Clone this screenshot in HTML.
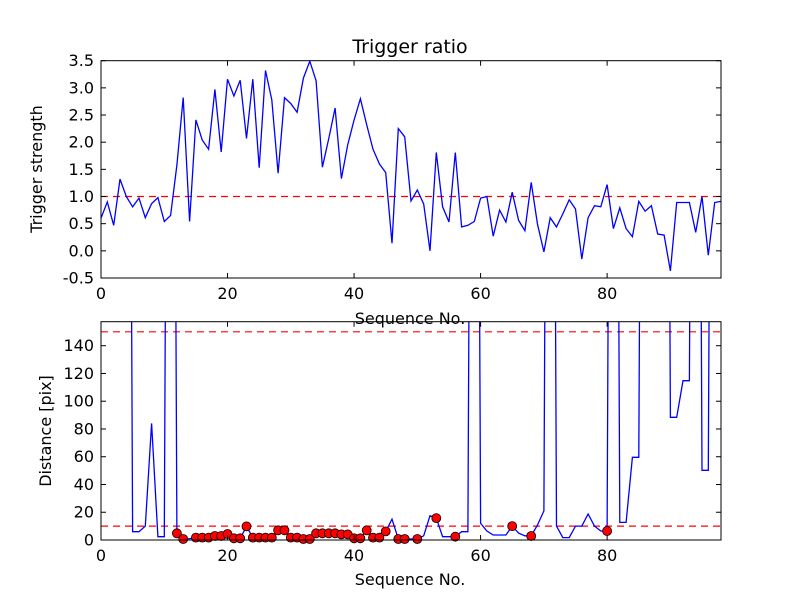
<!DOCTYPE html>
<html><head><meta charset="utf-8"><style>
html,body{margin:0;padding:0;background:#fff;}
svg{display:block;font-family:"DejaVu Sans","Liberation Sans",sans-serif;}
</style></head><body>
<svg id="s" width="800" height="600" xmlns="http://www.w3.org/2000/svg"></svg>
<script>
(function(){
var S=document.getElementById('s');
var h='';
var X0=101,X1=721,XM=98;
function sx(i){return X0+(i/XM)*(X1-X0);}
var T0=60.7,T1=278,tmin=-0.5,tmax=3.5;
function ty(v){return T0+(tmax-v)/(tmax-tmin)*(T1-T0);}
var B0=321.7,B1=540,bmax=157.3;
function by(v){return B1-v/bmax*(B1-B0);}
var topData=[0.6,0.9,0.47,1.32,1.0,0.81,0.97,0.61,0.87,0.98,0.54,0.65,1.58,2.82,0.54,2.41,2.04,1.87,2.97,1.82,3.16,2.85,3.14,2.07,3.16,1.53,3.32,2.78,1.43,2.82,2.71,2.55,3.18,3.49,3.13,1.54,2.07,2.63,1.33,1.95,2.41,2.8,2.32,1.87,1.6,1.44,0.14,2.25,2.1,0.92,1.12,0.86,0.0,1.81,0.81,0.53,1.81,0.44,0.47,0.54,0.97,1.0,0.27,0.75,0.53,1.08,0.56,0.37,1.26,0.49,-0.02,0.61,0.44,0.68,0.94,0.77,-0.15,0.61,0.83,0.81,1.22,0.41,0.79,0.41,0.26,0.91,0.73,0.83,0.31,0.29,-0.37,0.89,0.89,0.89,0.34,1.0,-0.08,0.89,0.91];
var H=1000;
var botData=[H,H,H,H,H,6,6,10,84,2.4,2.4,H,4.8,0.7,1,1.7,1.7,1.7,2.9,2.9,4.3,1.2,1.2,9.8,1.7,1.7,1.7,1.7,7,7,1.7,1.7,0.7,0.7,4.8,4.8,4.8,4.8,4,4,1.2,1.2,7,1.7,1.7,6.2,15,0.7,0.7,0.7,0.7,3,17.5,15.8,2.4,2.4,2.4,6,6,H,12,6.5,3.6,3.6,3.6,10,5,3,2.9,10.8,21,H,10,1.7,1.7,10,10,18.7,10,6.5,6.5,H,12.7,12.7,59.6,59.6,H,H,H,H,88.4,88.4,114.8,114.8,H,50.2,50.2,H,H];
var mk=[12,13,15,16,17,18,19,20,21,22,23,24,25,26,27,28,29,30,31,32,33,34,35,36,37,38,39,40,41,42,43,44,45,47,48,50,53,56,65,68,80];
h+='<defs><clipPath id="c1"><rect x="'+X0+'" y="'+T0+'" width="'+(X1-X0)+'" height="'+(T1-T0)+'"/></clipPath><clipPath id="c2"><rect x="'+X0+'" y="'+B0+'" width="'+(X1-X0)+'" height="'+(B1-B0)+'"/></clipPath></defs>';
h+='<line x1="'+X0+'" x2="'+X1+'" y1="'+ty(1)+'" y2="'+ty(1)+'" stroke="red" stroke-width="1.2" stroke-dasharray="7,5"/>';
h+='<polyline clip-path="url(#c1)" fill="none" stroke="blue" stroke-width="1.3" points="'+topData.map(function(v,i){return sx(i).toFixed(1)+','+ty(v).toFixed(1);}).join(' ')+'"/>';
h+='<rect x="'+X0+'" y="'+T0+'" width="'+(X1-X0)+'" height="'+(T1-T0)+'" fill="none" stroke="#000" stroke-width="1"/>';
var v,i,x,y;
for(var k=0;k<=8;k++){v=-0.5+k*0.5;y=ty(v);h+='<line x1="'+X0+'" x2="'+(X0+5)+'" y1="'+y+'" y2="'+y+'" stroke="#000"/><line x1="'+(X1-5)+'" x2="'+X1+'" y1="'+y+'" y2="'+y+'" stroke="#000"/><text x="'+(X0-7)+'" y="'+(y+5.5)+'" font-size="16" text-anchor="end">'+v.toFixed(1)+'</text>';}
for(i=0;i<=80;i+=20){x=sx(i);h+='<line x1="'+x+'" x2="'+x+'" y1="'+T1+'" y2="'+(T1-5)+'" stroke="#000"/><line x1="'+x+'" x2="'+x+'" y1="'+T0+'" y2="'+(T0+5)+'" stroke="#000"/><text x="'+x+'" y="'+(T1+21)+'" font-size="16" text-anchor="middle">'+i+'</text>';}
h+='<text x="410" y="53" font-size="19" text-anchor="middle">Trigger ratio</text>';
h+='<text x="410" y="324" font-size="16" text-anchor="middle">Sequence No.</text>';
h+='<text transform="translate(42,169) rotate(-90)" font-size="16" text-anchor="middle">Trigger strength</text>';
[150,10].forEach(function(v){h+='<line x1="'+X0+'" x2="'+X1+'" y1="'+by(v)+'" y2="'+by(v)+'" stroke="red" stroke-width="1.2" stroke-dasharray="7,5"/>';});
h+='<polyline clip-path="url(#c2)" fill="none" stroke="blue" stroke-width="1.3" points="'+botData.map(function(v,i){return sx(i).toFixed(1)+','+by(v).toFixed(1);}).join(' ')+'"/>';
mk.forEach(function(i){h+='<circle cx="'+sx(i).toFixed(1)+'" cy="'+by(botData[i]).toFixed(1)+'" r="4.5" fill="red" stroke="#000" stroke-width="0.8"/>';});
h+='<rect x="'+X0+'" y="'+B0+'" width="'+(X1-X0)+'" height="'+(B1-B0)+'" fill="none" stroke="#000" stroke-width="1"/>';
for(v=0;v<=140;v+=20){y=by(v);h+='<line x1="'+X0+'" x2="'+(X0+5)+'" y1="'+y+'" y2="'+y+'" stroke="#000"/><line x1="'+(X1-5)+'" x2="'+X1+'" y1="'+y+'" y2="'+y+'" stroke="#000"/><text x="'+(X0-7)+'" y="'+(y+5.5)+'" font-size="16" text-anchor="end">'+v+'</text>';}
for(i=0;i<=80;i+=20){x=sx(i);h+='<line x1="'+x+'" x2="'+x+'" y1="'+B1+'" y2="'+(B1-5)+'" stroke="#000"/><line x1="'+x+'" x2="'+x+'" y1="'+B0+'" y2="'+(B0+5)+'" stroke="#000"/><text x="'+x+'" y="'+(B1+21)+'" font-size="16" text-anchor="middle">'+i+'</text>';}
h+='<text x="410" y="585" font-size="16" text-anchor="middle">Sequence No.</text>';
h+='<text transform="translate(51,431) rotate(-90)" font-size="16" text-anchor="middle">Distance [pix]</text>';
S.innerHTML=h;
})();
</script>
</body></html>
